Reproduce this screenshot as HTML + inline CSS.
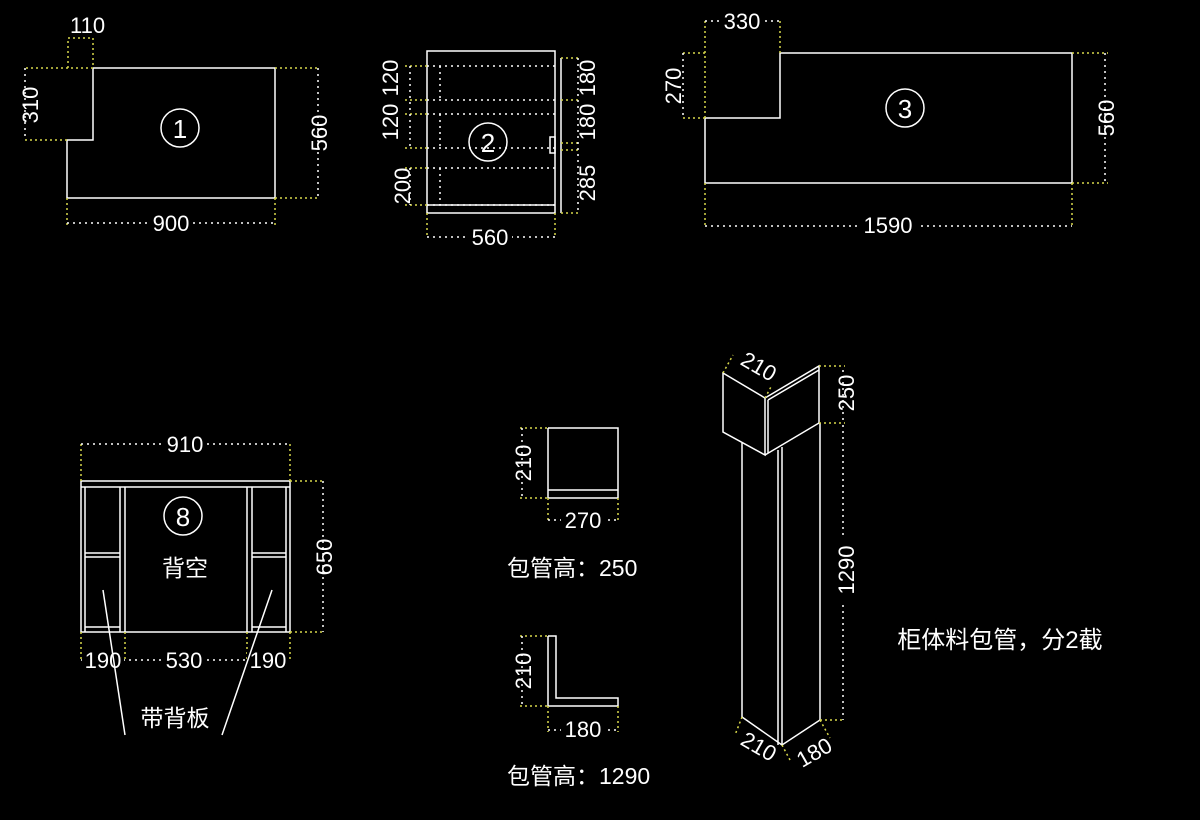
<!DOCTYPE html>
<html><head><meta charset="utf-8"><style>
html,body{margin:0;padding:0;background:#000;}
svg{display:block;}
text{font-family:"Liberation Sans","Noto Sans CJK SC",sans-serif;fill:#fff;}
.w{stroke:#fff;stroke-width:1.5;fill:none;}
.y{stroke:#d8d84a;stroke-width:1.5;fill:none;stroke-dasharray:2 3;}
.d{stroke:#fff;stroke-width:1.5;fill:none;stroke-dasharray:2 4;}
.t{font-size:22px;}
.c{font-size:26px;}
.k{font-size:23px;}
</style></head><body>
<svg width="1200" height="820" viewBox="0 0 1200 820" xmlns="http://www.w3.org/2000/svg">
<!-- Fig 1 -->
<polyline class="w" points="93,68 275,68 275,198 67,198 67,140 93,140 93,68"/>
<path class="y" d="M68,68V38H93V68 M93,68H25 M67,140H25 M275,68H320 M275,198H320 M67,198V225 M275,198V225"/>
<path class="d" d="M25,68V140 M318,68V198 M67,223H275"/>
<text class="t" x="70" y="33">110</text>
<text class="t" transform="translate(38,105) rotate(-90)" text-anchor="middle">310</text>
<text class="t" transform="translate(327,133) rotate(-90)" text-anchor="middle">560</text>
<rect x="150" y="213" width="42" height="20" fill="#000"/>
<text class="t" x="171" y="231" text-anchor="middle">900</text>
<circle cx="180" cy="128" r="19" class="w" stroke-width="1"/>
<text class="c" x="180" y="138" text-anchor="middle">1</text>
<!-- Fig 2 -->
<rect x="427" y="51" width="128" height="162" class="w"/>
<line x1="427" y1="205" x2="555" y2="205" class="w" stroke-width="1"/>
<path class="d" d="M427,66H555 M427,100H555 M427,114H555 M427,148H555 M427,168H555 M427,205H555 M440,66V100 M440,114V148 M440,168V205"/>
<line x1="561" y1="58" x2="561" y2="213" class="w"/>
<rect x="550" y="137" width="5" height="16" class="w" stroke-width="1"/>
<path class="y" d="M405,66H427 M405,100H427 M405,114H427 M405,148H427 M405,168H427 M405,205H427 M561,58H580 M561,100H580 M561,143H580 M561,150H580 M561,213H580 M427,213V238 M555,213V238"/>
<path class="d" d="M410,66V148 M410,168V205 M578,58V213 M427,237H555"/>
<text class="t" transform="translate(398,78) rotate(-90)" text-anchor="middle">120</text>
<text class="t" transform="translate(398,122) rotate(-90)" text-anchor="middle">120</text>
<text class="t" transform="translate(410,186) rotate(-90)" text-anchor="middle">200</text>
<text class="t" transform="translate(595,78) rotate(-90)" text-anchor="middle">180</text>
<text class="t" transform="translate(595,122) rotate(-90)" text-anchor="middle">180</text>
<text class="t" transform="translate(595,183) rotate(-90)" text-anchor="middle">285</text>
<rect x="468" y="227" width="44" height="20" fill="#000"/>
<text class="t" x="490" y="245" text-anchor="middle">560</text>
<circle cx="488" cy="142" r="19" class="w" stroke-width="1"/>
<text class="c" x="488" y="152" text-anchor="middle">2</text>
<!-- Fig 3 -->
<polyline class="w" points="705,118 780,118 780,53 1072,53 1072,183 705,183 705,118"/>
<path class="y" d="M705,118V20 M780,53V20 M705,53H680 M705,118H680 M1072,53H1108 M1072,183H1108 M705,183V228 M1072,183V228"/>
<path class="d" d="M705,21H780 M683,53V118 M1105,53V183 M705,226H1072"/>
<rect x="720" y="11" width="44" height="20" fill="#000"/>
<text class="t" x="742" y="29" text-anchor="middle">330</text>
<text class="t" transform="translate(681,86) rotate(-90)" text-anchor="middle">270</text>
<text class="t" transform="translate(1114,118) rotate(-90)" text-anchor="middle">560</text>
<rect x="858" y="215" width="60" height="20" fill="#000"/>
<text class="t" x="888" y="233" text-anchor="middle">1590</text>
<circle cx="905" cy="108" r="19" class="w" stroke-width="1"/>
<text class="c" x="905" y="118" text-anchor="middle">3</text>
<!-- Fig 8 -->
<rect x="81" y="481" width="209" height="151" class="w"/>
<line x1="81" y1="487" x2="290" y2="487" class="w" stroke-width="1"/>
<path class="w" stroke-width="1" d="M85,487V632 M120,487V632 M125,487V632 M247,487V632 M252,487V632 M286,487V632 M85,553H120 M85,557H120 M85,627H120 M252,553H286 M252,557H286 M252,627H286"/>
<path class="y" d="M81,481V443 M290,481V443 M290,481H325 M290,632H325 M81,632V662 M125,632V662 M247,632V662 M290,632V662"/>
<path class="d" d="M81,444H290 M323,481V632 M81,660H290"/>
<rect x="163" y="434" width="44" height="20" fill="#000"/>
<text class="t" x="185" y="452" text-anchor="middle">910</text>
<text class="t" transform="translate(332,557) rotate(-90)" text-anchor="middle">650</text>
<rect x="82" y="650" width="42" height="20" fill="#000"/>
<text class="t" x="103" y="668" text-anchor="middle">190</text>
<rect x="162" y="650" width="44" height="20" fill="#000"/>
<text class="t" x="184" y="668" text-anchor="middle">530</text>
<rect x="247" y="650" width="42" height="20" fill="#000"/>
<text class="t" x="268" y="668" text-anchor="middle">190</text>
<circle cx="183" cy="516" r="19" class="w" stroke-width="1"/>
<text class="c" x="183" y="526" text-anchor="middle">8</text>
<text class="k" x="185" y="576" text-anchor="middle">背空</text>
<path class="w" stroke-width="1" d="M103,590L125,735 M272,590L222,735"/>
<text class="k" x="175" y="726" text-anchor="middle">带背板</text>
<!-- Middle U -->
<path class="w" d="M548,428V498 M548,428H618V490 M548,490H618 M548,498H618 M618,490V498"/>
<path class="y" d="M520,428H548 M520,498H548 M548,498V522 M618,498V522"/>
<path class="d" d="M522,428V498 M548,520H618"/>
<text class="t" transform="translate(531,463) rotate(-90)" text-anchor="middle">210</text>
<rect x="561" y="511" width="44" height="20" fill="#000"/>
<text class="t" x="583" y="528" text-anchor="middle">270</text>
<text class="k" x="507" y="576">包管高：250</text>
<!-- Middle L -->
<path class="w" d="M548,636V706H618V698H556V636H548"/>
<path class="y" d="M520,636H548 M520,706H548 M548,706V732 M618,706V732"/>
<path class="d" d="M522,636V706 M548,730H618"/>
<text class="t" transform="translate(531,671) rotate(-90)" text-anchor="middle">210</text>
<rect x="561" y="720" width="44" height="20" fill="#000"/>
<text class="t" x="583" y="737" text-anchor="middle">180</text>
<text class="k" x="507" y="784">包管高：1290</text>
<!-- Pillar -->
<path class="w" stroke-width="1.2" d="M723,373L765,398V455L723,432Z M765,398L819,366V423L765,455 M768,400L819,370 M768,400V453 M742,443V717L782,745L820,720V423 M778,450V745 M782,447V745"/>
<path class="y" d="M819,366H845 M819,423H845 M820,720H845 M742,717L735,735 M782,745L790,760 M820,720L830,738 M723,373L733,355 M765,398L772,385"/>
<path class="d" d="M843,370V420 M843,425V720"/>
<text class="t" transform="translate(854,393) rotate(-90)" text-anchor="middle">250</text>
<rect x="833" y="538" width="20" height="64" fill="#000"/>
<text class="t" transform="translate(854,570) rotate(-90)" text-anchor="middle">1290</text>
<text class="t" transform="translate(755,373) rotate(30)" text-anchor="middle">210</text>
<text class="t" transform="translate(755,753) rotate(30)" text-anchor="middle">210</text>
<text class="t" transform="translate(818,759) rotate(-30)" text-anchor="middle">180</text>
<text x="1000" y="648" text-anchor="middle" style="font-size:24px">柜体料包管，分2截</text>
</svg>
</body></html>
